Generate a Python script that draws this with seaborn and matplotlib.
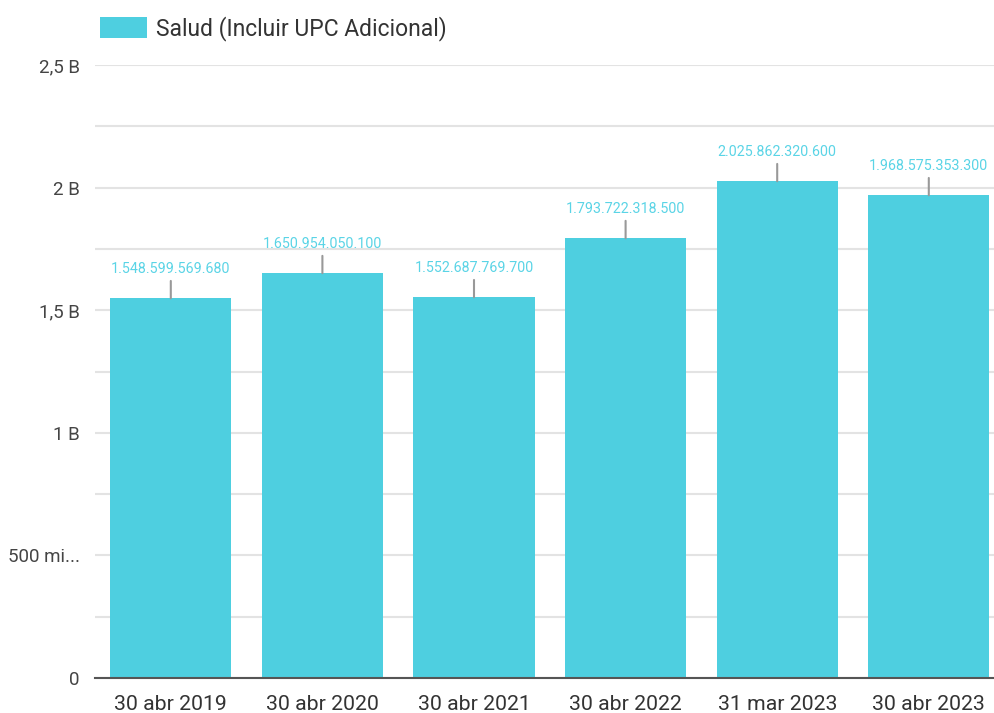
import matplotlib
matplotlib.use("Agg")
import matplotlib.pyplot as plt
import seaborn as sns
import pandas as pd

categories = ["30 abr 2019", "30 abr 2020", "30 abr 2021", "30 abr 2022", "31 mar 2023", "30 abr 2023"]
values = [1548599569680, 1650954050100, 1552687769700, 1793722318500, 2025862320600, 1968575353300]
value_labels = ["1.548.599.569.680", "1.650.954.050.100", "1.552.687.769.700",
                "1.793.722.318.500", "2.025.862.320.600", "1.968.575.353.300"]
series_name = "Salud (Incluir UPC Adicional)"
ytick_values = [0, 0.25e9, 0.5e9, 0.75e9, 1.0e9, 1.25e9, 1.5e9, 1.75e9, 2.0e9, 2.25e9, 2.5e9]
ytick_labels = ["0", "", "500 mi...", "", "1 B", "", "1,5 B", "", "2 B", "", "2,5 B"]

# values are in units of 1/1000 relative to the axis scale shown (B = mil millones)
scale = 1000.0

sns.set_theme(style="white")
plt.rcParams["font.family"] = ["Roboto", "DejaVu Sans"]

bar_color = "#4ECFE0"
label_color = "#5AD4E6"

df = pd.DataFrame({"fecha": categories, "valor": [v / scale for v in values], "serie": series_name})

fig = plt.figure(figsize=(9.95, 7.13), dpi=100)
ax = fig.add_axes([95 / 995, 1 - 678 / 713, 909.6 / 995, (678 - 65) / 713])

sns.barplot(data=df, x="fecha", y="valor", hue="serie", palette=[bar_color],
            width=0.8, ax=ax, zorder=3, saturation=1, linewidth=0)

ax.set_ylim(0, 2.5e9)
ax.set_xlim(-0.5, len(categories) - 0.5)
ax.set_yticks(ytick_values)
ax.set_yticklabels(ytick_labels)
ax.yaxis.grid(True, color="#E3E3E3", linewidth=1.5, zorder=0)
ax.set_axisbelow(True)
ax.tick_params(axis="y", length=0, labelsize=13.5, labelcolor="#444444", pad=11)
ax.tick_params(axis="x", length=0, labelsize=15.3, labelcolor="#333333", pad=12)
for s in ["top", "right", "left"]:
    ax.spines[s].set_visible(False)
ax.spines["bottom"].set_color("#555555")
ax.spines["bottom"].set_linewidth(1.5)
ax.spines["bottom"].set_zorder(5)
ax.set_xlabel("")
ax.set_ylabel("")

for i, (v, lab) in enumerate(zip(values, value_labels)):
    ax.annotate(lab, xy=(i, v / scale), xytext=(0, 22), textcoords="offset pixels",
                ha="center", va="bottom", fontsize=10.3, color=label_color,
                arrowprops=dict(arrowstyle="-", color="#999999", lw=1.5,
                                shrinkA=1, shrinkB=0), zorder=6)

leg = ax.legend(loc="upper left", bbox_to_anchor=(84 / 995, 1.0), bbox_transform=fig.transFigure,
                frameon=False, fontsize=16.5, handlelength=2.05, handleheight=1.05,
                handletextpad=0.38, borderaxespad=0.3)
for t in leg.get_texts():
    t.set_color("#333333")

fig.savefig("out.png", dpi=100)
